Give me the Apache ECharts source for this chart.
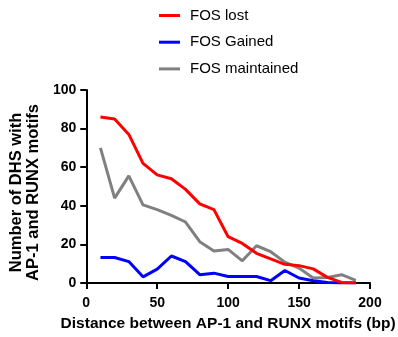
<!DOCTYPE html>
<html><head><meta charset="utf-8">
<script src="https://cdn.jsdelivr.net/npm/echarts@6/dist/echarts.min.js"></script>
<style>html,body{margin:0;padding:0;background:#fff}#c{width:398px;height:337px}</style>
</head><body><div id="c"></div>
<script>
const distances = [10,20,30,40,50,60,70,80,90,100,110,120,130,140,150,160,170,180,190];
const fosLost = [86,85,77,62,56,54,48.5,41,38,24,20.5,15.4,12.5,9.7,9,7.3,2.9,0.3,0];
const fosGained = [13.2,13.2,11.1,3.2,7.2,14,11.1,4.3,5.1,3.4,3.4,3.4,1.2,6.5,2.6,1.2,0.3,0,0];
const fosMaintained = [70,44,55.5,40.5,38,35,31.6,21.4,16.6,17.4,11.5,19.3,16.2,10.8,7.7,2.6,2.9,4.3,1.4];
const seriesNames = ['FOS lost','FOS Gained','FOS maintained'];
const colors = ['#ff0000','#0000ff','#808080'];
const xTicks = [0,50,100,150,200];
const yTicks = [0,20,40,60,80,100];

const font = 'Liberation Sans, Arial, sans-serif';
const mk = (arr) => distances.map((d,i)=>[d,arr[i]]);
const chart = echarts.init(document.getElementById('c'));
chart.setOption({
  animation:false,
  legend:{
    orient:'vertical', left:154, top:3, itemGap:11.7,
    itemWidth:21, itemHeight:3, icon:'rect',
    textStyle:{fontFamily:font,fontSize:15,color:'#000',padding:[0,0,0,5]},
    data:seriesNames
  },
  grid:{left:85,right:26,top:90,bottom:52,containLabel:false},
  xAxis:{
    type:'value',min:0,max:200,interval:50,
    name:'Distance between AP-1 and RUNX motifs (bp)',
    nameLocation:'middle',nameGap:33,
    nameTextStyle:{fontFamily:font,fontSize:15.5,fontWeight:'bold',color:'#000'},
    axisLine:{show:true,lineStyle:{color:'#000',width:2}},
    axisTick:{show:true,length:6,lineStyle:{color:'#000',width:2}},
    axisLabel:{fontFamily:font,fontSize:14,fontWeight:'bold',color:'#000',margin:13,
      formatter:v=>xTicks.includes(v)?String(v):''},
    splitLine:{show:false}
  },
  yAxis:{
    type:'value',min:0,max:100,interval:20,
    name:'Number of DHS with\nAP-1 and RUNX motifs',
    nameLocation:'middle',nameGap:43,
    nameTextStyle:{fontFamily:font,fontSize:16.5,fontWeight:'bold',color:'#000',lineHeight:17,padding:[0,12,0,0]},
    axisLine:{show:true,lineStyle:{color:'#000',width:2}},
    axisTick:{show:true,length:6,lineStyle:{color:'#000',width:2}},
    axisLabel:{fontFamily:font,fontSize:14,fontWeight:'bold',color:'#000',margin:10,
      formatter:v=>yTicks.includes(v)?String(v):''},
    splitLine:{show:false}
  },
  series:[
    {name:seriesNames[2],type:'line',data:mk(fosMaintained),showSymbol:false,color:colors[2],lineStyle:{width:3,color:colors[2]},z:2},
    {name:seriesNames[1],type:'line',data:mk(fosGained),showSymbol:false,color:colors[1],lineStyle:{width:3,color:colors[1]},z:3},
    {name:seriesNames[0],type:'line',data:mk(fosLost),showSymbol:false,color:colors[0],lineStyle:{width:3,color:colors[0]},z:4}
  ]
});
</script></body></html>
